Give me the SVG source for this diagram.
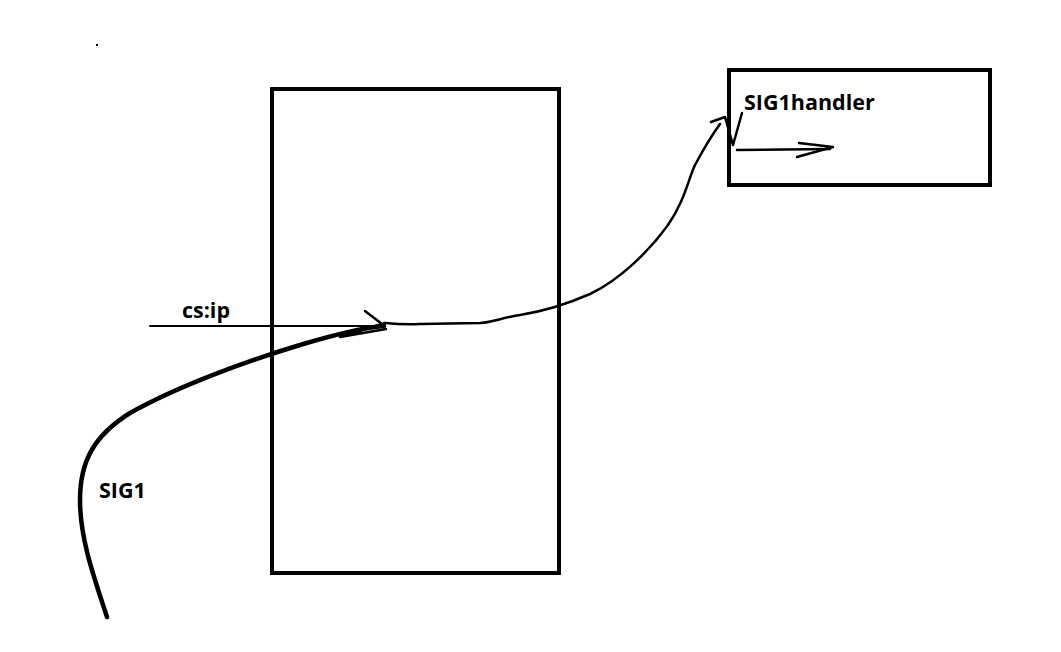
<svg xmlns="http://www.w3.org/2000/svg" width="1061" height="652" viewBox="0 0 1061 652">
<style>
.box{fill:none;stroke:#000;stroke-width:4}
.ln{fill:none;stroke:#000;stroke-linecap:round;stroke-linejoin:round}
.t{font-family:"Open Sans","Noto Sans","Liberation Sans",sans-serif;font-weight:bold;font-size:21.5px;fill:#000}
</style>
<rect width="1061" height="652" fill="#fff"/>
<g id="process">
<rect class="box" x="272" y="89" width="287" height="484"/>
</g>
<g id="handler">
<rect class="box" x="729" y="70" width="261" height="115"/>
<text class="t" x="744" y="110">SIG1handler</text>
</g>
<g id="labels">
<text class="t" x="182" y="318">cs:ip</text>
<text class="t" x="99" y="498">SIG1</text>
<rect x="96" y="44" width="2" height="2" fill="#000"/>
</g>
<g id="connectors">
<path class="ln" stroke-width="2" d="M150,326 L378,326"/>
<path class="ln" stroke-width="2.5" d="M365,311 L382,324 L340,337 L386,329"/>
<path class="ln" stroke-width="4.5" d="M107,617 C95,580 80,540 80,500 C80,460 95,435 130,413 C180,385 250,360 300,345 C330,336 360,328 384,326"/>
<path class="ln" stroke-width="2.5" d="M384,323 C395,324 405,325 420,324 L480,323 C495,322 500,318 520,315 C545,311 565,305 590,294 C620,280 650,250 668,225 C685,200 688,180 695,165 C703,150 712,135 720,124"/>
<path class="ln" stroke-width="2.5" d="M711,122 L725,117 L733,145 L742,113"/>
<path class="ln" stroke-width="2.5" d="M737,150 L830,149"/>
<path class="ln" stroke-width="2.5" d="M799,143 L833,147 L797,157"/>
</g>
</svg>
